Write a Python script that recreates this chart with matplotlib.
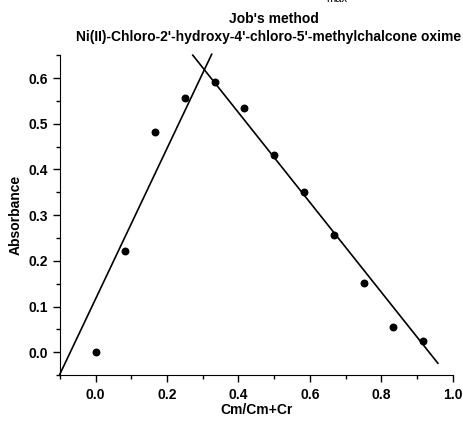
import matplotlib
matplotlib.use('Agg')
import matplotlib.pyplot as plt
from matplotlib.ticker import MultipleLocator
import numpy as np

plt.rcParams['font.family'] = ['Liberation Sans', 'DejaVu Sans']

# Job's method data: mole fraction vs absorbance
mole_fraction = np.arange(12) / 12
absorbance = [0.000, 0.222, 0.482, 0.557, 0.592, 0.534,
              0.432, 0.350, 0.256, 0.152, 0.056, 0.024]

# hand-drawn tangent lines (end points)
left_line_x = [-0.10, 0.325]
left_line_y = [-0.048, 0.652]
right_line_x = [0.272, 0.958]
right_line_y = [0.650, -0.024]

fig = plt.figure(figsize=(4.64, 4.21), dpi=100)
ax = fig.add_axes([0.129, 0.109, 0.847, 0.760])

ax.plot(left_line_x, left_line_y, color='black', linewidth=1.2, clip_on=False)
ax.plot(right_line_x, right_line_y, color='black', linewidth=1.2, clip_on=False)
ax.scatter(mole_fraction, absorbance, s=22, color='black', zorder=5)

ax.set_xlim(-0.1, 1.0)
ax.set_ylim(-0.05, 0.65)

ax.spines['top'].set_visible(False)
ax.spines['right'].set_visible(False)

ax.xaxis.set_minor_locator(MultipleLocator(0.1))
ax.yaxis.set_minor_locator(MultipleLocator(0.05))
ax.set_xticks(np.arange(0, 1.01, 0.2))
ax.set_yticks(np.arange(0, 0.61, 0.1))
ax.tick_params(which='major', direction='out', length=5, width=1, labelsize=10)
ax.tick_params(which='minor', direction='out', length=3, width=1)
ax.tick_params(axis='x', pad=4)
for lbl in ax.get_xticklabels() + ax.get_yticklabels():
    lbl.set_fontweight('bold')

ax.set_xlabel('Cm/Cm+Cr', fontsize=10, fontweight='bold')
ax.set_ylabel('Absorbance', fontsize=10, fontweight='bold')
ax.xaxis.set_label_coords(0.5, -0.088)
ax.yaxis.set_label_coords(-0.094, 0.5)

fig.text(0.59, 0.955, "Job's method", ha='center', va='center',
         fontsize=10, fontweight='bold')
fig.text(0.578, 0.912, "Ni(II)-Chloro-2'-hydroxy-4'-chloro-5'-methylchalcone oxime",
         ha='center', va='center', fontsize=10, fontweight='bold')
fig.text(0.725, 1.003, 'max', ha='center', va='center', fontsize=8)

plt.savefig('out.png', dpi=100)
